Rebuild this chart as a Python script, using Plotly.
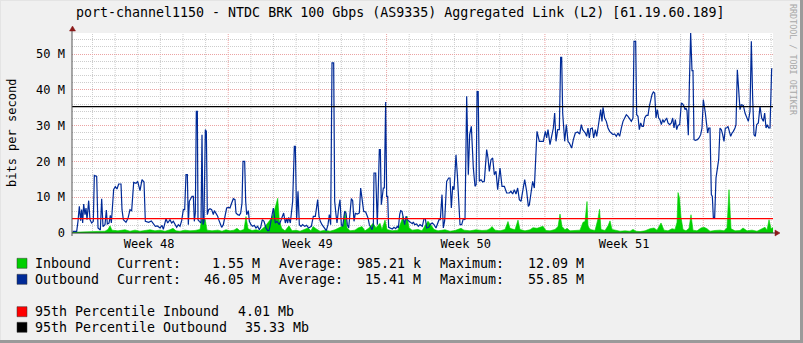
import plotly.graph_objects as go

# ---------------- data (time in days from start of Week 48, values in Mbit/s) -------------
out_t = [0.123, 0.300, 0.358, 0.417, 0.476, 0.521, 0.565, 0.609, 0.668, 0.712,
         0.756, 0.830, 0.889, 0.963, 1.036, 1.080, 1.184, 1.243, 1.346, 1.405,
         1.464, 1.552, 1.611, 1.655, 1.729, 1.788, 1.832, 1.876, 1.935, 2.009,
         2.083, 2.156, 2.259, 2.304, 2.363, 2.480, 2.569, 2.657, 2.731, 2.820,
         2.923, 2.996, 3.055, 3.099, 3.188, 3.276, 3.335, 3.483, 3.600, 3.689,
         3.777, 3.866, 3.984, 4.072, 4.131, 4.249, 4.323,
         4.425, 4.499, 4.573, 4.646, 4.720, 4.794, 4.867, 4.941, 5.015, 5.074,
         5.133, 5.192, 5.236, 5.280, 5.339, 5.398, 5.457, 5.501, 5.545, 5.589,
         5.634, 5.663, 5.722, 5.796, 5.840, 5.884, 5.928, 5.987, 6.032, 6.076,
         6.135, 6.194, 6.267, 6.341, 6.385, 6.459, 6.533, 6.577, 6.636, 6.709,
         6.783, 6.857, 6.930, 7.004, 7.078, 7.152, 7.225, 7.299, 7.343, 7.417,
         7.491, 7.550, 7.608, 7.653, 7.726, 7.771, 7.815, 7.889, 7.933, 8.006,
         8.080, 8.154, 8.227, 8.301, 8.375, 8.434, 8.507, 8.581, 8.669, 8.743,
         8.802, 8.846, 8.920, 8.994,
         9.082, 9.156, 9.259, 9.450, 9.524, 9.583, 9.627, 9.671, 9.745, 9.848,
         9.922, 9.966, 10.025, 10.084, 10.143, 10.217, 10.290, 10.379, 10.467, 10.556,
         10.674, 10.762, 10.850, 10.954, 11.012, 11.071, 11.145, 11.248, 11.337, 11.410,
         11.469, 11.528, 11.587, 11.661, 11.705, 11.764, 11.808, 11.882, 11.941, 12.000,
         12.059, 12.147, 12.206, 12.265, 12.324, 12.442, 12.501, 12.560, 12.619, 12.707,
         12.796, 12.854, 12.913, 12.987, 13.075, 13.179, 13.238, 13.297, 13.356, 13.415,
         13.444, 13.518, 13.591, 13.680, 13.724, 13.768, 13.857, 13.901, 13.960, 14.004,
         14.048, 14.092, 14.181, 14.254, 14.328, 14.402, 14.475, 14.520, 14.579, 14.623,
         14.682, 14.741, 14.800, 14.859, 14.918, 14.991, 15.065, 15.139, 15.183, 15.242,
         15.330, 15.404, 15.477, 15.581, 15.654, 15.713, 15.772, 15.861, 15.949, 16.023,
         16.096, 16.185, 16.318, 16.376, 16.450, 16.509, 16.568, 16.656, 16.745, 16.804,
         16.863, 16.922, 16.981, 17.069, 17.128, 17.187, 17.246, 17.320, 17.393, 17.467,
         17.541, 17.614, 17.673, 17.747, 17.835, 17.909, 17.960, 18.000, 18.050,
         18.100, 18.174, 18.248, 18.321, 18.425, 18.484, 18.543, 18.616, 18.690, 18.764,
         18.837, 18.911, 19.014, 19.102, 19.206, 19.309, 19.427, 19.500, 19.574, 19.648,
         19.721, 19.795, 19.869, 19.942, 20.105, 20.193, 20.267, 20.311, 20.385, 20.458,
         20.532, 20.650, 20.753, 20.856, 20.930, 21.018, 21.077, 21.136, 21.225, 21.284,
         21.372, 21.431, 21.490, 21.564, 21.637, 21.696, 21.741, 21.785, 21.873, 21.947,
         22.020, 22.079, 22.182, 22.256, 22.344, 22.448,
         22.536, 22.610, 22.669, 22.728, 22.787, 22.846, 22.904, 22.963, 23.022, 23.096,
         23.155, 23.229, 23.288, 23.347, 23.420, 23.465, 23.523, 23.568, 23.641, 23.715,
         23.789, 23.862, 23.936, 24.010, 24.083, 24.157, 24.231, 24.304, 24.378, 24.452,
         24.526, 24.599, 24.673, 24.747, 24.820, 24.894, 24.938, 25.012, 25.056, 25.115,
         25.174, 25.233, 25.292, 25.351, 25.410, 25.483, 25.557, 25.616, 25.675, 25.734,
         25.793, 25.852, 25.911, 25.970, 26.029, 26.088, 26.147, 26.206, 26.265, 26.324,
         26.382, 26.441, 26.515, 26.589, 26.648, 26.707, 26.766, 26.825, 26.883, 26.957,
         27.031, 27.090, 27.149, 27.193, 27.237, 27.281, 27.340, 27.384, 27.443, 27.502,
         27.546, 27.591, 27.650, 27.738, 27.812, 27.885, 27.944, 28.003, 28.047, 28.092,
         28.150, 28.195, 28.239, 28.298, 28.357, 28.401, 28.445, 28.504, 28.563, 28.622,
         28.681, 28.740, 28.799, 28.858, 28.917, 28.976, 29.035, 29.094, 29.153, 29.212,
         29.271, 29.330, 29.403, 29.447, 29.506, 29.565, 29.624, 29.683, 29.772, 29.845,
         29.919, 29.993, 30.066, 30.125, 30.184, 30.243, 30.302, 30.361, 30.435, 30.508,
         30.583, 30.656, 30.715, 30.774, 30.833, 30.892, 30.951, 31.024]

out_v = [0.47, 0.47, 3.26, 7.45, 3.45, 6.52, 2.79, 8.10, 5.12, 6.98,
         3.72, 9.03, 3.72, 2.79, 3.26, 16.11, 15.83, 1.40, 0.84, 9.59,
         1.77, 2.33, 6.42, 2.51, 2.79, 4.93, 2.79, 7.91, 12.20, 12.94,
         12.29, 13.69, 13.69, 6.52, 3.72, 2.98, 4.10, 6.52, 6.24, 14.15,
         13.87, 14.43, 13.04, 11.82, 14.90, 14.25, 3.26, 2.98, 3.35, 2.61,
         1.86, 1.96, 1.40, 2.14, 1.02, 4.00, 2.79,
         3.72, 2.79, 3.26, 2.33, 1.58, 2.33, 1.86, 3.44, 6.52, 6.52,
         16.29, 16.29, 2.33, 8.85, 9.78, 10.24, 10.24, 3.26, 5.59, 34.0,
         33.99, 3.72, 3.26, 2.79, 27.47, 2.33, 3.26, 28.86, 28.40, 5.12,
         6.52, 6.80, 6.52, 5.12, 6.24, 5.59, 4.66, 3.72, 2.51, 1.58,
         2.33, 4.38, 6.98, 7.17, 6.98, 8.38, 9.59, 9.31, 5.59, 5.12,
         4.93, 5.59, 8.38, 20.02, 20.02, 8.85, 5.12, 6.24, 3.26, 2.33,
         1.86, 2.14, 1.40, 1.86, 0.93, 1.58, 3.72, 3.26, 1.40, 0.65,
         0.65, 1.86, 4.19, 6.98,
         2.79, 3.26, 2.33, 5.59, 2.79, 4.19, 2.79, 4.38, 2.79, 8.85,
         24.21, 24.21, 3.54, 11.64, 2.33, 1.86, 2.33, 1.86, 2.14, 1.40,
         1.86, 4.66, 4.66, 9.31, 4.66, 3.26, 2.33, 1.40, 0.65, 2.33,
         5.12, 2.33, 47.5, 47.5, 8.85, 5.12, 2.79, 6.98, 9.31, 2.33,
         1.86, 6.05, 5.59, 2.33, 1.40, 9.59, 9.03, 3.26, 5.49, 5.31,
         5.59, 12.57, 8.85, 6.05, 5.87, 4.19, 2.33, 1.40, 0.93, 2.33,
         16.76, 16.76, 2.33, 23.28, 23.28, 7.91, 12.57, 12.57, 36.6, 10.24,
         10.24, 1.58, 1.40, 1.12, 1.58, 1.21, 1.86, 1.40, 5.12, 6.24,
         6.05, 3.72, 2.33, 4.66, 3.72, 3.26, 2.79, 2.61, 3.07, 2.33,
         2.51, 1.86, 2.33, 1.86, 4.00, 4.00, 1.40, 1.58, 2.51, 2.79,
         2.33, 1.40, 3.72, 3.72, 10.71, 1.40, 3.44, 14.43, 15.36, 15.36,
         6.98, 13.04, 12.10, 21.88, 16.29, 10.71, 2.33, 2.33, 4.00, 3.72,
         38.2, 16.29, 27.47, 29.80, 18.16, 13.04, 13.50, 39.5, 39.5,
         14.43, 14.90, 14.25, 14.43, 23.28, 20.95, 17.23, 20.48, 20.95, 16.29,
         17.23, 12.10, 18.16, 13.04, 13.04, 11.17, 11.17, 11.64, 10.89, 12.10,
         10.89, 12.57, 9.31, 8.85, 14.90, 11.64, 7.45, 7.91, 11.17, 14.43,
         12.57, 28.40, 25.61, 25.61, 25.61, 28.40, 26.54, 28.86, 24.67, 26.54,
         29.33, 33.52, 25.61, 28.86, 28.86, 49.07, 49.07, 33.52, 25.61, 30.26,
         25.61, 25.14, 23.74, 26.07, 27.93, 28.21,
         27.65, 30.26, 28.86, 28.40, 27.93, 27.00, 29.33, 26.54, 29.14, 29.33,
         26.54, 28.86, 27.00, 29.33, 32.12, 34.45, 31.19, 35.10, 32.12, 31.19,
         29.33, 28.40, 27.93, 27.47, 27.65, 27.00, 27.93, 27.00, 29.33, 31.19,
         32.12, 33.05, 32.59, 31.66, 31.19, 32.12, 53.54, 53.54, 33.05, 32.59,
         28.86, 30.73, 29.80, 29.80, 32.12, 32.87, 32.87, 35.38, 37.24, 38.64,
         39.38, 39.10, 32.12, 34.45, 32.12, 31.66, 30.26, 31.66, 31.01, 31.66,
         32.12, 30.73, 30.26, 30.73, 32.12, 29.33, 31.66, 28.86, 30.07, 30.26,
         36.31, 36.03, 35.38, 34.45, 34.92, 34.17, 27.28, 40.97, 55.85, 45.35,
         45.35, 26.07, 25.88, 26.07, 26.54, 27.47, 29.33, 37.24, 35.85, 33.52,
         30.26, 27.93, 29.33, 29.33, 10.71, 10.24, 4.38, 4.38, 15.36, 18.16,
         20.48, 29.33, 28.86, 27.47, 25.61, 29.33, 29.33, 29.80, 27.93, 27.00,
         27.93, 28.40, 29.33, 30.26, 45.62, 40.97, 34.45, 35.85, 35.66, 33.52,
         32.12, 31.19, 33.99, 53.54, 37.71, 27.47, 27.00, 30.26, 30.73, 35.38,
         32.12, 31.19, 33.52, 29.33, 30.26, 29.33, 29.33, 46.05]

in_t = [0.093, 1.110, 1.552, 1.684, 1.773, 1.861, 2.126, 2.436, 2.657, 2.878,
        3.099, 3.541, 3.762, 3.983, 4.204, 4.425, 4.558, 4.691, 4.867, 5.088,
        5.309, 5.530, 5.752, 5.840, 5.973, 6.061, 6.282, 6.547, 6.724, 6.901,
        7.078, 7.255, 7.387, 7.520, 7.697, 7.785, 7.874, 8.050, 8.227, 8.404,
        8.625, 8.846, 8.979, 9.067, 9.187, 9.257, 9.363, 9.509, 9.686, 9.819,
        9.996, 10.173, 10.394, 10.526, 10.659, 10.747, 10.880, 11.057, 11.278, 11.499,
        11.720, 11.941, 12.074, 12.162, 12.250, 12.383, 12.604, 12.737, 12.913, 13.046,
        13.223, 13.400, 13.532, 13.709, 13.797, 13.930, 14.018, 14.240, 14.505, 14.638,
        14.726, 14.814, 14.903, 14.991, 15.124, 15.389, 15.566, 15.699, 15.831, 15.964,
        16.097, 16.274, 16.583, 16.804, 17.025, 17.290, 17.423, 17.688, 17.953, 18.219,
        18.440, 18.572, 18.661, 18.793, 19.014, 19.235, 19.368, 19.456, 19.677, 19.810,
        19.898, 20.119, 20.340, 20.473, 20.650, 20.783, 20.915, 21.048, 21.225, 21.446,
        21.579, 21.667, 21.756, 21.888, 21.977, 22.109, 22.330, 22.551, 22.684, 22.772,
        22.861, 22.905, 22.993, 23.214, 23.347, 23.413, 23.480, 23.657, 23.789, 23.878,
        23.966, 24.143, 24.320, 24.541, 24.762, 24.894, 25.027, 25.204, 25.425, 25.646,
        25.823, 25.955, 26.132, 26.265, 26.442, 26.618, 26.751, 26.840, 26.884, 26.950,
        27.016, 27.105, 27.237, 27.370, 27.458, 27.547, 27.724, 27.900, 28.033, 28.166,
        28.298, 28.519, 28.740, 28.917, 29.050, 29.138, 29.227, 29.403, 29.624, 29.757,
        29.934, 30.155, 30.376, 30.597, 30.730, 30.818, 30.907, 30.995, 31.083]

in_v = [0.2, 0.3, 0.5, 1.0, 2.0, 0.8, 0.6, 0.9, 0.5, 0.8,
        0.5, 0.9, 0.6, 0.8, 0.5, 0.9, 1.3, 0.6, 0.5, 0.8,
        0.6, 0.7, 1.0, 4.1, 4.0, 0.8, 0.6, 0.8, 0.5, 0.9,
        0.6, 0.8, 1.3, 0.6, 1.0, 4.6, 1.2, 0.7, 0.9, 0.6,
        1.8, 3.6, 5.0, 6.9, 9.7, 3.6, 1.3, 0.6, 2.0, 0.6,
        0.8, 0.5, 1.2, 1.4, 0.6, 1.8, 1.2, 0.5, 0.8, 0.5,
        0.9, 1.5, 2.0, 6.2, 1.5, 0.6, 0.8, 1.4, 1.8, 0.6,
        1.4, 2.7, 1.5, 2.7, 1.0, 3.6, 1.0, 0.6, 0.8, 3.0,
        4.6, 2.5, 4.7, 1.5, 0.8, 1.0, 0.6, 2.0, 3.3, 2.2,
        1.0, 0.6, 0.9, 0.5, 0.7, 1.3, 0.8, 0.6, 0.9, 0.7,
        0.8, 1.2, 1.8, 0.8, 0.6, 1.0, 3.2, 1.3, 0.9, 3.6,
        1.0, 0.6, 0.9, 1.5, 1.3, 1.6, 1.9, 0.7, 0.6, 1.0,
        1.8, 5.3, 1.8, 0.9, 1.3, 0.6, 0.8, 0.8, 3.0, 3.2,
        8.8, 2.0, 1.0, 0.7, 4.0, 6.6, 1.0, 0.7, 2.0, 3.4,
        1.0, 0.7, 0.5, 0.6, 0.5, 1.0, 0.5, 0.4, 0.6, 1.2,
        1.4, 0.8, 2.8, 0.8, 0.6, 1.2, 1.0, 3.0, 11.3, 9.8,
        4.4, 1.0, 0.6, 1.3, 5.1, 0.8, 0.6, 1.4, 1.6, 1.2,
        0.5, 0.7, 0.8, 0.6, 1.5, 12.1, 1.2, 0.6, 0.7, 1.4,
        0.6, 0.8, 0.5, 1.2, 1.6, 0.8, 3.7, 1.2, 1.55]

p95_in = 4.01
p95_out = 35.33

week_pos = [3.5, 10.5, 17.5, 24.5]
week_labels = ["Week 48", "Week 49", "Week 50", "Week 51"]
x_range = [0.093, 31.083]
y_range = [0, 55.87]
ytick_vals = [0, 10, 20, 30, 40, 50]
ytick_text = ["0", "10 M", "20 M", "30 M", "40 M", "50 M"]

title_text = "port-channel1150 - NTDC BRK 100 Gbps (AS9335) Aggregated Link (L2) [61.19.60.189]"
legend_rows = [
    ("Inbound", "#00CF00", "1.55 M", "985.21 k", "12.09 M"),
    ("Outbound", "#002A97", "46.05 M", "15.41 M", "55.85 M"),
]
pct_rows = [
    ("95th Percentile Inbound", "#FF0000", "4.01 Mb"),
    ("95th Percentile Outbound", "#000000", "35.33 Mb"),
]

# ---------------- layout geometry (pixels) ----------------
W, H = 803, 343
L, R, T, B = 72, 773, 33, 233
FONT = "DejaVu Sans Mono"
LEG_FS = 13.3


def PX(x):
    return (x - L) / (R - L)


def PY(y):
    return (B - y) / (B - T)


fig = go.Figure()

fig.add_trace(go.Scatter(x=in_t, y=in_v, mode="lines", fill="tozeroy",
                         fillcolor="#00CF00", line=dict(color="#00CF00", width=0.6),
                         hoverinfo="skip", showlegend=False))
fig.add_trace(go.Scatter(x=out_t, y=out_v, mode="lines",
                         line=dict(color="#002A97", width=1.2),
                         hoverinfo="skip", showlegend=False))

shapes = []
# vertical grid: daily minor, weekly major
for d in range(0, 32):
    if d < x_range[0] or d > x_range[1]:
        continue
    major = (d % 7 == 0)
    shapes.append(dict(type="line", xref="x", yref="paper", x0=d, x1=d, y0=0, y1=1,
                       layer="below",
                       line=dict(color="#EBA3A3" if major else "#CDCDCD", width=1,
                                 dash="1px,1px")))

# percentile lines
shapes.append(dict(type="line", xref="paper", yref="y", x0=0, x1=1, y0=p95_in, y1=p95_in,
                   line=dict(color="#FF0000", width=1.3)))
shapes.append(dict(type="line", xref="paper", yref="y", x0=0, x1=1, y0=p95_out, y1=p95_out,
                   line=dict(color="#000000", width=1.3)))

# axes lines with arrows
shapes.append(dict(type="line", xref="paper", yref="paper", x0=PX(L), x1=PX(776), y0=PY(B), y1=PY(B),
                   line=dict(color="#333333", width=1)))
shapes.append(dict(type="line", xref="paper", yref="paper", x0=PX(L), x1=PX(L), y0=PY(B + 3), y1=PY(30),
                   line=dict(color="#555555", width=1)))
shapes.append(dict(type="path", xref="paper", yref="paper",
                   path=f"M {PX(775)},{PY(230)} L {PX(780)},{PY(233)} L {PX(775)},{PY(236)} Z",
                   fillcolor="#8B1A1A", line=dict(color="#8B1A1A", width=0.5)))
shapes.append(dict(type="path", xref="paper", yref="paper",
                   path=f"M {PX(69.5)},{PY(31)} L {PX(72.5)},{PY(26)} L {PX(75.5)},{PY(31)} Z",
                   fillcolor="#8B1A1A", line=dict(color="#8B1A1A", width=0.5)))

# outer frame (3D look)
shapes.append(dict(type="line", xref="paper", yref="paper", x0=PX(0), x1=PX(W), y0=PY(0.5), y1=PY(0.5),
                   line=dict(color="#E4E4E4", width=1)))
shapes.append(dict(type="line", xref="paper", yref="paper", x0=PX(0.5), x1=PX(0.5), y0=PY(0), y1=PY(H),
                   line=dict(color="#E4E4E4", width=1)))
shapes.append(dict(type="line", xref="paper", yref="paper", x0=PX(801.5), x1=PX(801.5), y0=PY(0), y1=PY(H),
                   line=dict(color="#9A9A9A", width=3)))
shapes.append(dict(type="line", xref="paper", yref="paper", x0=PX(0), x1=PX(W), y0=PY(341.5), y1=PY(341.5),
                   line=dict(color="#9A9A9A", width=3)))

annotations = []
annotations.append(dict(text=title_text, xref="paper", yref="paper", x=PX(400), y=PY(13),
                        xanchor="center", yanchor="middle", showarrow=False,
                        font=dict(family=FONT, size=13.3, color="#000000"), borderpad=0))
annotations.append(dict(text="bits per second", xref="paper", yref="paper", x=PX(12), y=PY(133),
                        xanchor="center", yanchor="middle", showarrow=False, textangle=-90,
                        font=dict(family=FONT, size=12, color="#000000"), borderpad=0))
annotations.append(dict(text="RRDTOOL / TOBI OETIKER", xref="paper", yref="paper", x=PX(793), y=PY(60),
                        xanchor="center", yanchor="middle", showarrow=False, textangle=90,
                        font=dict(family=FONT, size=8.4, color="#A8A8A8"), borderpad=0))

row_y = [263.3, 279.3]
for (name, col, cur, avg, mx), yy in zip(legend_rows, row_y):
    shapes.append(dict(type="rect", xref="paper", yref="paper", x0=PX(17), x1=PX(27),
                       y0=PY(yy - 5), y1=PY(yy + 5), fillcolor=col,
                       line=dict(color="#333333", width=0.5)))
    items = [(name, 33.5, "left"), ("Current:", 116, "left"), (cur, 261, "right"),
             ("Average:", 278.3, "left"), (avg, 421.5, "right"),
             ("Maximum:", 439.3, "left"), (mx, 584.5, "right")]
    for txt, xx, anc in items:
        annotations.append(dict(text=txt, xref="paper", yref="paper", x=PX(xx), y=PY(yy),
                                xanchor=anc, yanchor="middle", showarrow=False,
                                font=dict(family=FONT, size=LEG_FS, color="#000000"), borderpad=0))

pct_y = [311.7, 327.3]
pct_val_x = [237, 244]
for (name, col, val), yy, vx in zip(pct_rows, pct_y, pct_val_x):
    shapes.append(dict(type="rect", xref="paper", yref="paper", x0=PX(17), x1=PX(27),
                       y0=PY(yy - 5), y1=PY(yy + 5), fillcolor=col,
                       line=dict(color="#333333", width=0.5)))
    annotations.append(dict(text=name, xref="paper", yref="paper", x=PX(33.5), y=PY(yy),
                            xanchor="left", yanchor="middle", showarrow=False,
                            font=dict(family=FONT, size=LEG_FS, color="#000000"), borderpad=0))
    annotations.append(dict(text=val, xref="paper", yref="paper", x=PX(vx), y=PY(yy),
                            xanchor="left", yanchor="middle", showarrow=False,
                            font=dict(family=FONT, size=LEG_FS, color="#000000"), borderpad=0))

fig.update_layout(
    width=W, height=H,
    margin=dict(l=L, r=W - R, t=T, b=H - B, pad=0),
    paper_bgcolor="#F0F0F0",
    plot_bgcolor="#FFFFFF",
    showlegend=False,
    shapes=shapes,
    annotations=annotations,
    font=dict(family=FONT, size=12, color="#000000"),
    xaxis=dict(range=x_range, tickmode="array", tickvals=week_pos, ticktext=week_labels,
               showgrid=False, zeroline=False, showline=False, ticks="", ticklabelstandoff=2,
               tickfont=dict(family=FONT, size=12, color="#000000"), fixedrange=True),
    yaxis=dict(range=y_range, tickmode="array", tickvals=ytick_vals, ticktext=ytick_text,
               showgrid=True, gridcolor="#EBA3A3", griddash="1px,1px", gridwidth=1,
               zeroline=False, showline=False, ticks="", ticklabelstandoff=6,
               minor=dict(tickmode="linear", tick0=0, dtick=2, showgrid=True,
                          gridcolor="#CDCDCD", griddash="1px,1px", gridwidth=1),
               tickfont=dict(family=FONT, size=12, color="#000000"), fixedrange=True),
)

fig.write_html("out.html")
